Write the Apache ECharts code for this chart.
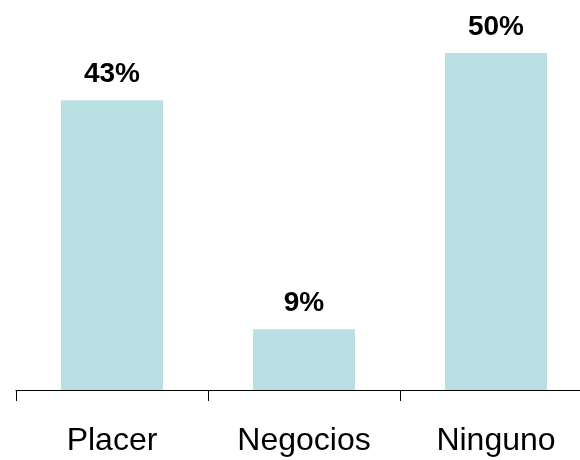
<!DOCTYPE html>
<html>
<head>
<meta charset="utf-8">
<script src="https://cdn.jsdelivr.net/npm/echarts@6/dist/echarts.min.js"></script>
<style>
  html, body { margin: 0; padding: 0; background: #fff; overflow: hidden; }
  /* the last category band runs past the right edge in the original */
  #chart { width: 592px; height: 460px; }
</style>
</head>
<body>
<div id="chart"></div>
<script>
// datos
const categories = ['Placer', 'Negocios', 'Ninguno'];
const values = [43, 9, 50];

const chart = echarts.init(document.getElementById('chart'));
chart.setOption({
  animation: false,
  grid: {
    left: 16,
    right: 0,
    top: 53,
    bottom: 70
  },
  xAxis: {
    type: 'category',
    data: categories,
    axisLine: { lineStyle: { color: '#000', width: 1 } },
    axisTick: { show: true, length: 11, lineStyle: { color: '#000' } },
    axisLabel: {
      color: '#000',
      fontFamily: 'Liberation Sans',
      fontSize: 32,
      margin: 35
    }
  },
  yAxis: {
    type: 'value',
    min: 0,
    max: 50,
    show: false
  },
  series: [{
    type: 'bar',
    data: values,
    barWidth: 102,
    itemStyle: { color: '#B9E0E3' },
    label: {
      show: true,
      position: 'top',
      distance: 12,
      formatter: '{c}%',
      color: '#000',
      fontFamily: 'Liberation Sans',
      fontWeight: 'bold',
      fontSize: 28
    }
  }]
});
</script>
</body>
</html>
